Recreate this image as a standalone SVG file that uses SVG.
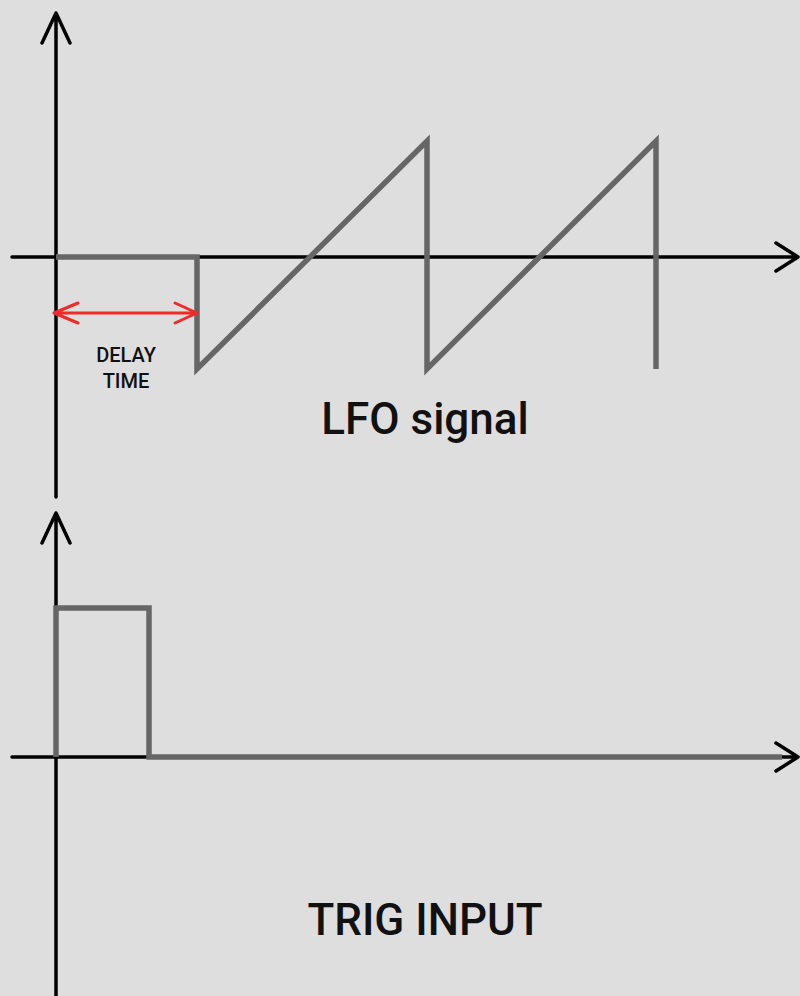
<svg xmlns="http://www.w3.org/2000/svg" width="800" height="996" viewBox="0 0 800 996">
<style>
.ax{stroke:#000;stroke-width:3.5;fill:none;stroke-linecap:round;stroke-linejoin:round}
.sig{stroke:#666;stroke-width:5.5;fill:none;stroke-linejoin:miter}
.red{stroke:#ee2a2a;stroke-width:3;fill:none;stroke-linecap:round;stroke-linejoin:round}
.t{font-family:Roboto,"Liberation Sans",sans-serif;font-weight:500;fill:#111;text-anchor:middle}
</style>
<rect width="800" height="996" fill="#dedede"/>
<g id="top-axes">
<path class="ax" d="M56,497 V13 M42,43 L56,13 L70,43"/>
<path class="ax" d="M12,257 H798 M776,243 L798,257 L776,271"/>
</g>
<g id="lfo-signal">
<path class="sig" d="M56,257 H197 V369 L427,141 V369 L656,141 V369"/>
</g>
<g id="delay-time">
<path class="red" d="M54,313 H197 M78,303 L54,313 L78,323 M175,303 L197,313 L175,323"/>
<text class="t" x="126" y="362" font-size="20">DELAY</text>
<text class="t" x="126" y="388" font-size="20">TIME</text>
</g>
<g id="lfo-label">
<text class="t" x="425" y="434" font-size="44">LFO signal</text>
</g>
<g id="bottom-axes">
<path class="ax" d="M56,996 V513 M42,543 L56,513 L70,543"/>
<path class="ax" d="M12,757 H798 M776,743 L798,757 L776,771"/>
</g>
<g id="trig-signal">
<path class="sig" d="M56,757 V608 H149 V757 H782"/>
</g>
<g id="trig-label">
<text class="t" x="425" y="935" font-size="44">TRIG INPUT</text>
</g>
</svg>
